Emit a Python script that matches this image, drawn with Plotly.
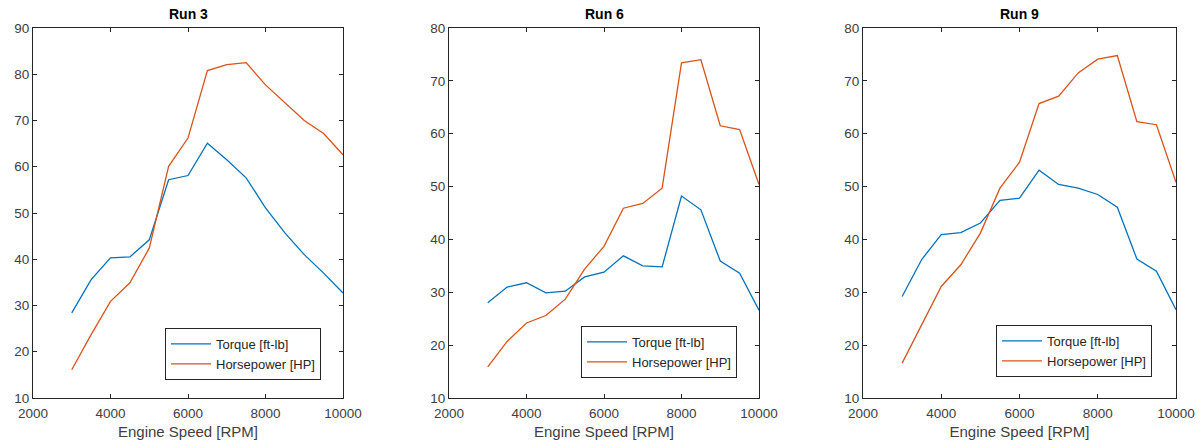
import plotly.graph_objects as go

rpm = [3000, 3500, 4000, 4500, 5000, 5500, 6000, 6500, 7000, 7500, 8000, 8500, 9000, 9500, 10000]

run3_torque = [28.4, 35.6, 40.3, 40.5, 44.2, 57.2, 58.1, 65.1, 61.5, 57.6, 51.1, 45.7, 41.0, 37.0, 32.7]
run3_hp = [16.1, 23.7, 30.9, 34.9, 42.4, 60.1, 66.2, 80.8, 82.1, 82.5, 77.7, 73.8, 70.0, 67.2, 62.6]

run6_torque = [28.0, 31.0, 31.8, 29.9, 30.2, 32.9, 33.8, 36.9, 35.0, 34.8, 48.2, 45.6, 35.9, 33.6, 26.6]
run6_hp = [15.9, 20.7, 24.2, 25.6, 28.7, 34.4, 38.7, 45.9, 46.8, 49.7, 73.4, 74.0, 61.5, 60.8, 50.4]

run9_torque = [29.2, 36.2, 40.9, 41.3, 43.1, 47.4, 47.8, 53.1, 50.4, 49.7, 48.5, 46.1, 36.3, 34.0, 26.7]
run9_hp = [16.6, 23.7, 31.1, 35.2, 41.2, 49.7, 54.6, 65.7, 67.1, 71.5, 74.1, 74.8, 62.3, 61.7, 50.8]

titles = ["Run 3", "Run 6", "Run 9"]
y_ranges = [[10, 90], [10, 80], [10, 80]]
x_ticks = [2000, 4000, 6000, 8000, 10000]
series_names = ["Torque [ft-lb]", "Horsepower [HP]"]
runs = [(run3_torque, run3_hp), (run6_torque, run6_hp), (run9_torque, run9_hp)]

colors = ["#0072BD", "#D95319"]
x_domains = [[33 / 1202, 343 / 1202], [449 / 1202, 759 / 1202], [863 / 1202, 1176 / 1202]]
y_domain = [1 - 398 / 448, 1 - 28 / 448]
legend_pos = [(321 / 1202, 1 - 380 / 448), (737 / 1202, 1 - 378 / 448), (1152 / 1202, 1 - 377 / 448)]

FONT = "Liberation Sans, Arial, Helvetica, sans-serif"
fig = go.Figure()
layout = dict(
    width=1202, height=448,
    margin=dict(l=0, r=0, t=0, b=0),
    paper_bgcolor="white", plot_bgcolor="white",
    font=dict(family=FONT, size=12, color="#404040"),
    showlegend=True,
    annotations=[],
)

for i, (tq, hp) in enumerate(runs):
    sfx = "" if i == 0 else str(i + 1)
    leg = "legend" if i == 0 else f"legend{i + 1}"
    for name, vals, col in zip(series_names, (tq, hp), colors):
        fig.add_trace(go.Scatter(
            x=rpm, y=vals, mode="lines", name=name,
            line=dict(color=col, width=1.3),
            xaxis="x" + sfx, yaxis="y" + sfx, legend=leg,
        ))
    axis_common = dict(
        showline=True, linecolor="#262626", linewidth=1, mirror="ticks",
        ticks="inside", ticklen=4, tickcolor="#262626", tickwidth=1,
        showgrid=False, zeroline=False, automargin=False,
        tickfont=dict(family=FONT, size=13.5, color="#404040"),
    )
    layout["xaxis" + sfx] = dict(
        axis_common, domain=x_domains[i], range=[2000, 10000],
        tickvals=x_ticks, ticktext=[str(v) for v in x_ticks],
        anchor="y" + sfx, ticklabelstandoff=3,
        title=dict(text="Engine Speed [RPM]", font=dict(family=FONT, size=15, color="#404040"), standoff=6),
    )
    layout["yaxis" + sfx] = dict(
        axis_common, domain=y_domain, range=y_ranges[i], dtick=10,
        anchor="x" + sfx,
    )
    layout[leg] = dict(
        x=legend_pos[i][0], y=legend_pos[i][1], xanchor="right", yanchor="bottom",
        xref="paper", yref="paper",
        bgcolor="white", bordercolor="#262626", borderwidth=1,
        font=dict(family=FONT, size=13, color="#262626"),
        tracegroupgap=0, itemwidth=40,
    )
    layout["annotations"].append(dict(
        text="<b>" + titles[i] + "</b>", x=sum(x_domains[i]) / 2, y=1 - 14 / 448,
        xref="paper", yref="paper", xanchor="center", yanchor="middle",
        showarrow=False, font=dict(family=FONT, size=14, color="black"),
    ))

fig.update_layout(**layout)
fig.write_html(
    "out.html",
    config={"displayModeBar": False},
    post_script="document.body.style.margin='0';document.body.style.overflow='hidden';",
)
